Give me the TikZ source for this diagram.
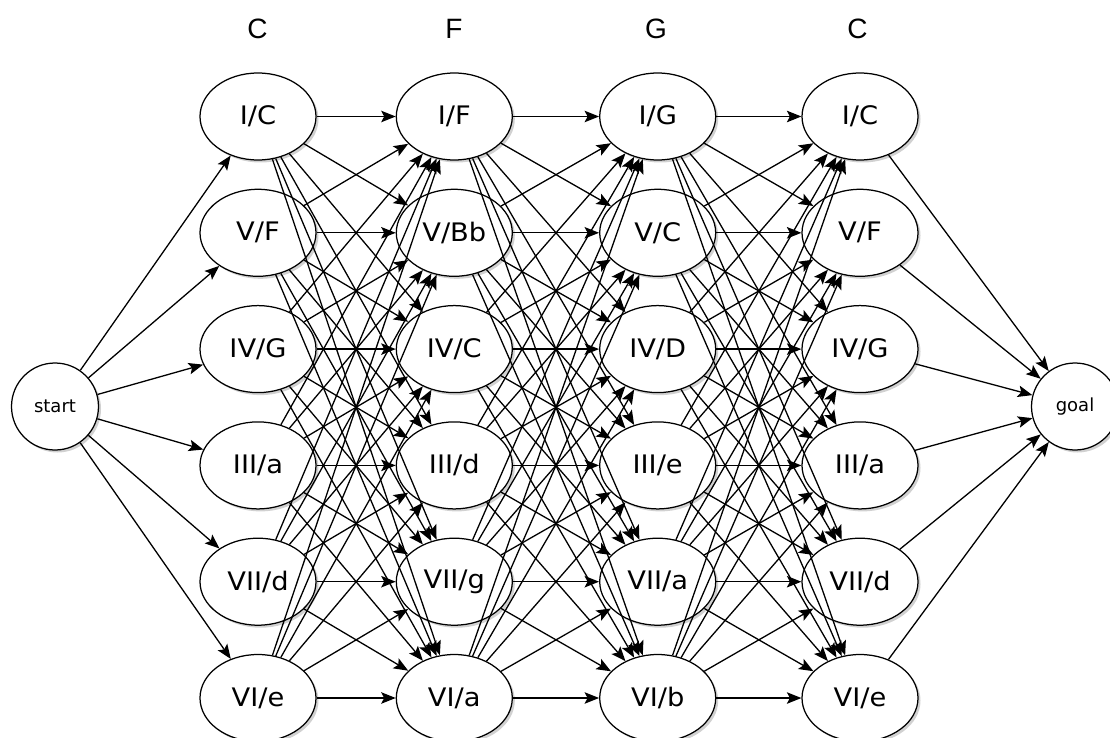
\documentclass[tikz,border=0pt]{standalone}
\usepackage{fontspec}
\setmainfont{DejaVu Sans}
\newfontfamily\chordfont[FakeStretch=1.07]{DejaVu Sans}
\newfontfamily\headfont{Liberation Sans}
\usetikzlibrary{arrows.meta,shapes.geometric,shadows}

\begin{document}
\begin{tikzpicture}[x=1pt,y=-1pt,
  chord/.style={ellipse, draw, line width=1.25pt, fill=white,
    minimum width=116pt, minimum height=87pt, inner sep=0pt,
    font=\chordfont\fontsize{25.5}{30}\selectfont,
    drop shadow={shadow xshift=2.5pt, shadow yshift=-2.5pt, opacity=0.3, fill=black!60}},
  term/.style={circle, draw, line width=1.25pt, fill=white,
    minimum size=87pt, inner sep=0pt,
    font=\fontsize{18}{22}\selectfont,
    drop shadow={shadow xshift=2.5pt, shadow yshift=-2.5pt, opacity=0.3, fill=black!60}},
  head/.style={font=\headfont\fontsize{28}{32}\selectfont},
  link/.style={line width=1.3pt, -{Stealth[length=14.5pt,width=11.5pt,inset=3pt]}}
]
\useasboundingbox (0,0) rectangle (1110,738);

% key headers over the four columns
\node[head] (h1) at (257.5,29) {C};
\node[head] (h2) at (454,29) {F};
\node[head] (h3) at (656,29) {G};
\node[head] (h4) at (857.5,29) {C};

% start and goal
\node[term] (start) at (55,406.5) {start};
\node[term] (goal) at (1075,406.5) {goal};

% chord nodes: column c, row r
\foreach \c/\x/\labels in {
  1/258/{I/C,V/F,IV/G,III/a,VII/d,VI/e},
  2/454.3/{I/F,V/Bb,IV/C,III/d,VII/g,VI/a},
  3/657.7/{I/G,V/C,IV/D,III/e,VII/a,VI/b},
  4/860/{I/C,V/F,IV/G,III/a,VII/d,VI/e}}{
  \foreach \lab [count=\r] in \labels {
    \pgfmathsetmacro{\yy}{116.5+(\r-1)*116.3}
    \node[chord] (c\c r\r) at (\x,\yy) {\lab};
  }
}

% transitions
\foreach \r in {1,...,6}{
  \draw[link] (start) -- (c1r\r);
  \draw[link] (c4r\r) -- (goal);
}
\foreach \c/\n in {1/2,2/3,3/4}{
  \foreach \i in {1,...,6}{
    \foreach \j in {1,...,6}{
      \draw[link] (c\c r\i) -- (c\n r\j);
    }
  }
}
\end{tikzpicture}
\end{document}
